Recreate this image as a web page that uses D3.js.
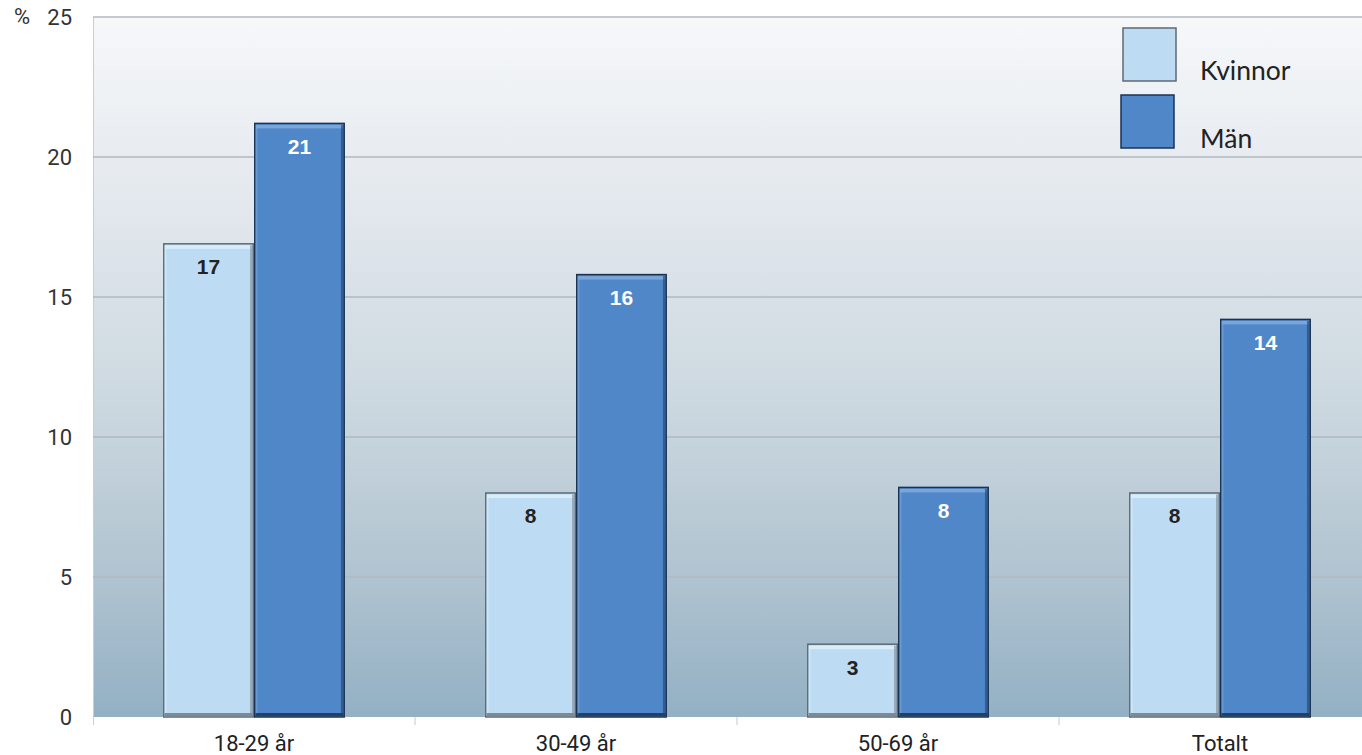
<!DOCTYPE html>
<html>
<head>
<meta charset="utf-8">
<script src="https://cdn.jsdelivr.net/npm/d3@7/dist/d3.min.js"></script>
<style>
  html, body { margin: 0; padding: 0; background: #ffffff; }
  svg { display: block; }
</style>
</head>
<body>
<svg id="chart" width="1362" height="755"></svg>
<script>
// Andel (%) per åldersgrupp, kvinnor och män
const categories = ["18-29 år", "30-49 år", "50-69 år", "Totalt"];
const series = ["Kvinnor", "Män"];
const kvinnor = [16.9, 8.0, 2.6, 8.0];
const man = [21.2, 15.8, 8.2, 14.2];
const yTicks = [0, 5, 10, 15, 20, 25];

const W = 1362, H = 755;
const plotLeft = 93, plotTop = 17, plotH = 700, catW = 322;
const plotBottom = plotTop + plotH;

const svg = d3.select("#chart");
const defs = svg.append("defs");

const bg = defs.append("linearGradient").attr("id", "bg")
  .attr("x1", 0).attr("y1", 0).attr("x2", 0).attr("y2", 1);
bg.append("stop").attr("offset", "0%").attr("stop-color", "#f6f8fa");
bg.append("stop").attr("offset", "25%").attr("stop-color", "#e4e9ee");
bg.append("stop").attr("offset", "55%").attr("stop-color", "#ccd8e0");
bg.append("stop").attr("offset", "80%").attr("stop-color", "#b0c3d0");
bg.append("stop").attr("offset", "100%").attr("stop-color", "#93b0c4");

const x = d3.scaleBand().domain(categories).range([plotLeft, plotLeft + catW * categories.length]);
const xs = d3.scaleBand().domain(series).range([0, x.bandwidth()]).paddingOuter(0.77);
const y = d3.scaleLinear().domain([0, 25]).range([plotBottom, plotTop]);

// plot background
svg.append("rect")
  .attr("x", plotLeft).attr("y", plotTop)
  .attr("width", W - plotLeft).attr("height", plotH)
  .attr("fill", "url(#bg)");

// left edge
svg.append("line")
  .attr("x1", plotLeft + 0.5).attr("x2", plotLeft + 0.5)
  .attr("y1", plotTop).attr("y2", plotBottom + 8)
  .attr("stroke", "#c9ced3").attr("stroke-width", 1);

// gridlines
svg.append("g").selectAll("line").data(yTicks.filter(d => d > 0)).join("line")
  .attr("x1", plotLeft).attr("x2", W)
  .attr("y1", d => y(d)).attr("y2", d => y(d))
  .attr("stroke", "#b0b8bf").attr("stroke-width", 1.5);

// y axis labels
const yAxis = d3.axisLeft(y).tickValues(yTicks).tickSize(0).tickPadding(21).tickFormat(d3.format("d"));
const gy = svg.append("g").attr("transform", `translate(${plotLeft},0)`).call(yAxis);
gy.select(".domain").remove();
gy.selectAll("text")
  .attr("font-family", "Roboto, 'Liberation Sans', sans-serif")
  .attr("font-size", 22).attr("fill", "#333");
svg.append("text")
  .attr("x", 14).attr("y", y(25)).attr("dy", "0.32em")
  .attr("font-family", "Roboto, 'Liberation Sans', sans-serif")
  .attr("font-size", 22).attr("fill", "#333")
  .text("%");

// x axis: category boundary ticks and labels
const bounds = d3.range(categories.length + 1).map(i => plotLeft + i * x.step());
svg.append("g").selectAll("line").data(bounds.slice(1)).join("line")
  .attr("x1", d => d).attr("x2", d => d)
  .attr("y1", plotBottom).attr("y2", plotBottom + 8)
  .attr("stroke", "#c4c9ce").attr("stroke-width", 1);
svg.append("g").selectAll("text").data(categories).join("text")
  .attr("x", d => x(d) + x.bandwidth() / 2)
  .attr("y", 751)
  .attr("text-anchor", "middle")
  .attr("font-family", "Roboto, 'Liberation Sans', sans-serif")
  .attr("font-size", 22).attr("fill", "#222")
  .text(d => d);

// bars
const styles = {
  "Kvinnor": { fill: "#bddcf3", stroke: "#5d6a75", hi: "#d9ecfa", lo: "#7d8a95", label: "#222" },
  "Män": { fill: "#4f87c8", stroke: "#1c3252", hi: "#7aa6d9", lo: "#22406a", label: "#ffffff" }
};
const rows = categories.flatMap((c, i) => [
  { cat: c, s: "Kvinnor", v: kvinnor[i] },
  { cat: c, s: "Män", v: man[i] }
]);

const bars = svg.append("g").selectAll("g").data(rows).join("g")
  .attr("transform", d => `translate(${x(d.cat) + xs(d.s)},0)`);

const bw = xs.bandwidth();
bars.append("rect")
  .attr("x", 0.75).attr("y", d => y(d.v))
  .attr("width", bw - 1.5).attr("height", d => plotBottom - y(d.v))
  .attr("fill", d => styles[d.s].fill)
  .attr("stroke", d => styles[d.s].stroke).attr("stroke-width", 1.5);
// bevel highlight along the top and left
bars.append("rect")
  .attr("x", 2).attr("y", d => y(d.v) + 1.5)
  .attr("width", bw - 4).attr("height", 3.5)
  .attr("fill", d => styles[d.s].hi);
bars.append("rect")
  .attr("x", 1.5).attr("y", d => y(d.v) + 1.5)
  .attr("width", 2).attr("height", d => plotBottom - y(d.v) - 3)
  .attr("fill", d => styles[d.s].hi).attr("opacity", 0.6);
// bevel shadow along the bottom and right
bars.append("rect")
  .attr("x", 1.5).attr("y", plotBottom - 4)
  .attr("width", bw - 3).attr("height", 3)
  .attr("fill", d => styles[d.s].lo);
bars.append("rect")
  .attr("x", bw - 4).attr("y", d => y(d.v) + 1.5)
  .attr("width", 2.5).attr("height", d => plotBottom - y(d.v) - 3)
  .attr("fill", d => styles[d.s].lo).attr("opacity", 0.6);

// value labels
bars.append("text")
  .attr("x", bw / 2)
  .attr("y", d => y(d.v) + 23)
  .attr("dy", "0.35em")
  .attr("text-anchor", "middle")
  .attr("font-family", "'Liberation Sans', Arial, sans-serif")
  .attr("font-weight", "bold").attr("font-size", 21)
  .attr("fill", d => styles[d.s].label)
  .text(d => d3.format(".0f")(d.v));

// legend
const legend = svg.append("g");
const legendItems = [
  { s: "Kvinnor", x: 1123, y: 28, ty: 80 },
  { s: "Män", x: 1121, y: 95, ty: 148 }
];
legend.selectAll("rect").data(legendItems).join("rect")
  .attr("x", d => d.x).attr("y", d => d.y)
  .attr("width", 53).attr("height", 53)
  .attr("fill", d => styles[d.s].fill)
  .attr("stroke", d => styles[d.s].stroke).attr("stroke-width", 1.5);
legend.selectAll("text").data(legendItems).join("text")
  .attr("x", 1200).attr("y", d => d.ty)
  .attr("font-family", "Lato, 'Open Sans', sans-serif")
  .attr("font-size", 26.5).attr("fill", "#222")
  .text(d => d.s);
</script>
</body>
</html>
